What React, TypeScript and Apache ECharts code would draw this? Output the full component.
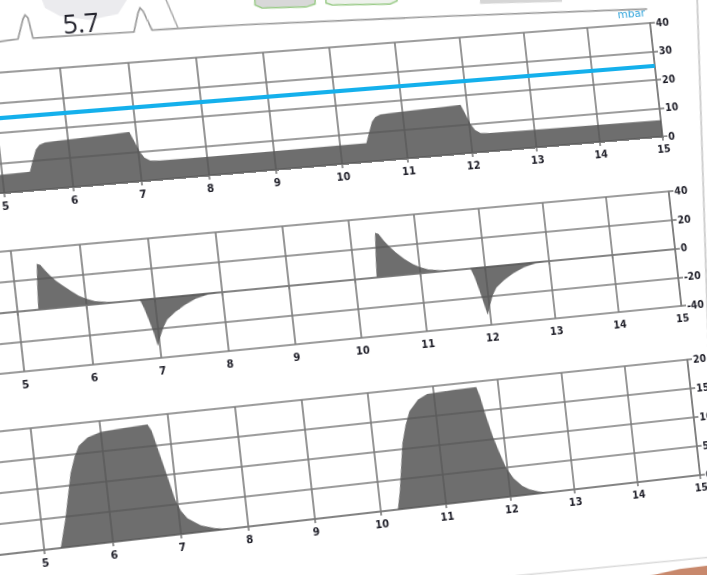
import React, { useEffect, useRef } from "react";
import * as echarts from "echarts";

// ---------- data (time in s) ----------
const TIME_MIN = 4;
const TIME_MAX = 15;

const PRESSURE_TICKS = { min: 0, max: 40, interval: 10 };
const FLOW_TICKS = { min: -40, max: 40, interval: 20 };
const VOLUME_TICKS = { min: 0, max: 20, interval: 5 };

const PRESSURE_UNIT = "mbar";
const PRESSURE_LIMIT = 25;
const DISPLAY_VALUE = "5.7";

const PRESSURE: [number, number][] = [
  [4.0, 6.0], [4.6, 6.0], [5.0, 6.1], [5.4, 6.3], [5.45, 9.5], [5.52, 13.5], [5.58, 15.0],
  [5.66, 15.6], [5.8, 15.8], [6.2, 16.1], [6.6, 16.5], [6.9, 16.8], [6.96, 13.5], [7.02, 10],
  [7.08, 7.8], [7.16, 6.7], [7.3, 6.4], [8, 6.3], [9, 6.3], [10, 6.4], [10.4, 6.4],
  [10.45, 9.5], [10.52, 13.5], [10.58, 15.1], [10.66, 15.8], [10.8, 16.0], [11.2, 16.3],
  [11.6, 16.6], [11.9, 16.8], [11.96, 13.5], [12.02, 10], [12.08, 7.8], [12.16, 6.6],
  [12.3, 6.3], [13, 6.1], [14, 6.0], [15, 5.8],
];

const FLOW: [number, number][] = [
  [4, 0], [5.3, 0], [5.32, 14], [5.35, 30], [5.4, 29], [5.46, 25], [5.53, 21], [5.6, 17.5],
  [5.68, 14.5], [5.8, 10], [5.9, 6.5], [6.0, 4], [6.13, 1.8], [6.3, 0.5], [6.5, 0],
  [6.78, 0], [6.83, -6], [6.88, -14], [6.93, -23], [6.97, -32], [7.02, -26], [7.08, -20],
  [7.15, -15], [7.28, -10.5], [7.43, -6.5], [7.6, -3], [7.8, -0.8], [8, 0],
  [10.33, 0], [10.35, 14], [10.38, 30], [10.43, 29], [10.5, 24], [10.58, 19.5], [10.66, 15.5],
  [10.78, 10.5], [10.9, 6.5], [11.0, 4], [11.13, 1.8], [11.3, 0.5], [11.5, 0],
  [11.77, 0], [11.82, -6], [11.87, -15], [11.92, -25], [11.96, -33], [12.01, -27], [12.07, -20],
  [12.14, -15], [12.27, -10.5], [12.42, -6.5], [12.6, -3], [12.8, -0.8], [13, 0], [15, 0],
];

const VOLUME: [number, number][] = [
  [4, 0], [5.24, 0], [5.3, 2.5], [5.36, 5], [5.42, 8], [5.5, 12], [5.58, 14.5], [5.66, 16.3],
  [5.8, 17.5], [6.0, 18.2], [6.3, 18.4], [6.69, 18.6], [6.74, 17.5], [6.78, 15.5], [6.84, 12.5],
  [6.9, 9.5], [6.97, 5.8], [7.04, 3.8], [7.12, 2.5], [7.3, 1.1], [7.5, 0.4], [7.7, 0],
  [10.26, 0], [10.32, 3], [10.38, 7], [10.44, 11], [10.52, 14], [10.6, 16.2], [10.75, 18],
  [10.9, 18.8], [11.3, 19], [11.66, 19.1], [11.7, 17.5], [11.76, 14], [11.83, 10.5], [11.9, 7.8],
  [11.98, 5], [12.08, 3], [12.2, 1.6], [12.3, 0.9], [12.45, 0.3], [12.6, 0], [15, 0],
];

// ---------- layout of the flat (un-photographed) screen ----------
const FRAME_W = 900;
const FRAME_H = 760;
const PLOT_LEFT = 34;
const UNIT = 66;
const PLOT_W = UNIT * (TIME_MAX - TIME_MIN);
const GRID_TOPS = [140, 309, 478];
const GRID_HEIGHTS = [114, 115, 116];

// where the flat screen corners land in the photo
const QUAD: [number, number][] = [
  [60, 68],
  [650, 23],
  [700, 475],
  [113, 542],
];

type M3 = number[][];
function squareToQuad(q: [number, number][]): M3 {
  const [[x0, y0], [x1, y1], [x2, y2], [x3, y3]] = q;
  const sx = x0 - x1 + x2 - x3;
  const sy = y0 - y1 + y2 - y3;
  const dx1 = x1 - x2, dx2 = x3 - x2, dy1 = y1 - y2, dy2 = y3 - y2;
  const den = dx1 * dy2 - dx2 * dy1;
  const g = (sx * dy2 - dx2 * sy) / den;
  const h = (dx1 * sy - sx * dy1) / den;
  return [
    [x1 - x0 + g * x1, x3 - x0 + h * x3, x0],
    [y1 - y0 + g * y1, y3 - y0 + h * y3, y0],
    [g, h, 1],
  ];
}
function mul3(a: M3, b: M3): M3 {
  const r: M3 = [[0, 0, 0], [0, 0, 0], [0, 0, 0]];
  for (let i = 0; i < 3; i++)
    for (let j = 0; j < 3; j++)
      for (let k = 0; k < 3; k++) r[i][j] += a[i][k] * b[k][j];
  return r;
}
function inv3(m: M3): M3 {
  const [[a, b, c], [d, e, f], [g, h, i]] = m;
  const A = e * i - f * h, B = -(d * i - f * g), C = d * h - e * g;
  const det = a * A + b * B + c * C;
  return [
    [A / det, -(b * i - c * h) / det, (b * f - c * e) / det],
    [B / det, (a * i - c * g) / det, -(a * f - c * d) / det],
    [C / det, -(a * h - b * g) / det, (a * e - b * d) / det],
  ];
}
function apply(m: M3, p: [number, number]): [number, number] {
  const w = m[2][0] * p[0] + m[2][1] * p[1] + m[2][2];
  return [
    (m[0][0] * p[0] + m[0][1] * p[1] + m[0][2]) / w,
    (m[1][0] * p[0] + m[1][1] * p[1] + m[1][2]) / w,
  ];
}

const U6 = PLOT_LEFT + UNIT * (6 - TIME_MIN);
const U15 = PLOT_LEFT + PLOT_W;
const V_TOP = GRID_TOPS[0];
const V_BOT = GRID_TOPS[2] + GRID_HEIGHTS[2];
const RECT: M3 = [
  [1 / (U15 - U6), 0, -U6 / (U15 - U6)],
  [0, 1 / (V_BOT - V_TOP), -V_TOP / (V_BOT - V_TOP)],
  [0, 0, 1],
];
const HOMO = mul3(squareToQuad(QUAD), RECT);
const HOMO_INV = inv3(HOMO);
const toFrame = (p: [number, number]) => apply(HOMO_INV, p);
const CSS_MATRIX = `matrix3d(${HOMO[0][0]},${HOMO[1][0]},0,${HOMO[2][0]},${HOMO[0][1]},${HOMO[1][1]},0,${HOMO[2][1]},0,0,1,0,${HOMO[0][2]},${HOMO[1][2]},0,${HOMO[2][2]})`;

const GRID_COLOR = "#7c7c7c";
const LABEL_COLOR = "#1c1c26";
const FILL = "rgba(86,86,86,0.86)";
const BLUE = "#14b0ec";
const FONT = "DejaVu Sans Condensed, DejaVu Sans";

function buildOption() {
  const ticks = [PRESSURE_TICKS, FLOW_TICKS, VOLUME_TICKS];
  const grid = GRID_TOPS.map((top, i) => ({
    left: PLOT_LEFT,
    width: PLOT_W,
    top,
    height: GRID_HEIGHTS[i],
  }));
  const xAxis = grid.map((_, i) => ({
    type: "value",
    gridIndex: i,
    min: TIME_MIN,
    max: TIME_MAX,
    interval: 1,
    axisLine: { show: true, lineStyle: { color: GRID_COLOR, width: 1.6 } },
    axisTick: { show: true, length: 4, lineStyle: { color: GRID_COLOR, width: 1.6 } },
    axisLabel: {
      color: LABEL_COLOR,
      fontSize: 11,
      fontWeight: "bold",
      fontFamily: FONT,
      margin: 7,
      formatter: (v: number) => (v === TIME_MIN ? "" : String(v)),
    },
    splitLine: { show: true, lineStyle: { color: GRID_COLOR, width: 1.6 } },
  }));
  const yAxis = ticks.map((t, i) => ({
    type: "value",
    gridIndex: i,
    position: "right",
    min: t.min,
    max: t.max,
    interval: t.interval,
    name: i === 0 ? PRESSURE_UNIT : "",
    nameLocation: "end",
    nameGap: 5,
    nameTextStyle: {
      color: "#2ea3da",
      fontSize: 11,
      fontFamily: "DejaVu Sans",
      align: "right",
      verticalAlign: "bottom",
      padding: [0, 4, 0, 0],
    },
    axisLine: { show: true, lineStyle: { color: GRID_COLOR, width: 1.6 } },
    axisTick: { show: true, length: 5, lineStyle: { color: GRID_COLOR, width: 1.6 } },
    axisLabel: { color: LABEL_COLOR, fontSize: 11, fontWeight: "bold", fontFamily: FONT, margin: 6 },
    splitLine: { show: true, lineStyle: { color: GRID_COLOR, width: 1.6 } },
  }));
  const area = (data: [number, number][], i: number, extra: any = {}) => ({
    type: "line",
    xAxisIndex: i,
    yAxisIndex: i,
    data,
    symbol: "none",
    showSymbol: false,
    lineStyle: { width: 0 },
    areaStyle: { color: FILL, opacity: 1 },
    z: 3,
    ...extra,
  });

  const P = (x: number, y: number) => toFrame([x, y]);
  const panelEdge = [
    [-10, 43], [18, 39], [23, 19], [25, 15], [28, 18], [33, 38], [134, 32], [138, 13],
    [140, 8], [143, 11], [152, 30], [240, 25], [450, 16], [647, 9],
  ].map(([x, y]) => P(x, y));

  const graphic = [
    {
      type: "polygon",
      shape: { points: [P(40, -5), P(130, -5), P(118, 14), P(90, 20), P(60, 16), P(45, 8)] },
      style: { fill: "#ebebee" },
      z: 0,
    },
    {
      type: "polyline",
      shape: { points: panelEdge },
      style: { stroke: "#9b9b9b", lineWidth: 1.6, fill: "none" },
      z: 1,
    },
    {
      type: "polyline",
      shape: { points: [P(164, -5), P(178, 28)] },
      style: { stroke: "#a8a8a8", lineWidth: 1.4, fill: "none" },
      z: 1,
    },
    {
      type: "text",
      x: P(81, 23)[0],
      y: P(81, 23)[1],
      style: {
        text: DISPLAY_VALUE,
        fontSize: 25,
        fontFamily: "Open Sans",
        fill: "#24242e",
        align: "center",
        verticalAlign: "middle",
      },
      z: 2,
    },
    {
      type: "polygon",
      shape: { points: [P(254, -20), P(316, -20), P(315, 4), P(306, 7), P(262, 8), P(255, 5)] },
      style: { fill: "#d8d8d8", stroke: "#9ccc8a", lineWidth: 1.5 },
      z: 1,
    },
    {
      type: "polygon",
      shape: { points: [P(325, -20), P(398, -20), P(397, 1), P(390, 4), P(332, 5), P(326, 3)] },
      style: { fill: "#eef2ec", stroke: "#9ccc8a", lineWidth: 1.5 },
      z: 1,
    },
    {
      type: "polygon",
      shape: { points: [P(480, -20), P(562, -20), P(562, 2), P(480, 4)] },
      style: { fill: "#d6d6d6" },
      z: 1,
    },
    {
      type: "polyline",
      shape: { points: [P(697, -5), P(716, 580)] },
      style: { stroke: "#cfcfcf", lineWidth: 2, fill: "none" },
      z: 1,
    },
    {
      type: "polyline",
      shape: { points: [P(470, 580), P(712, 557)] },
      style: { stroke: "#dadada", lineWidth: 1.5, fill: "none" },
      z: 1,
    },
    {
      type: "polygon",
      shape: { points: [P(630, 580), P(680, 569), P(712, 565), P(712, 580)] },
      style: { fill: "#c8886c" },
      z: 1,
    },
  ];

  return {
    animation: false,
    backgroundColor: "transparent",
    textStyle: { fontFamily: FONT },
    grid,
    xAxis,
    yAxis,
    graphic,
    series: [
      area(PRESSURE, 0, {
        markLine: {
          silent: true,
          symbol: ["none", "none"],
          label: { show: false },
          lineStyle: { color: BLUE, width: 4.2, type: "solid" },
          data: [{ yAxis: PRESSURE_LIMIT }],
        },
      }),
      area(FLOW, 1),
      area(VOLUME, 2),
    ],
  };
}

export default function App() {
  const ref = useRef<HTMLDivElement>(null);
  useEffect(() => {
    if (!ref.current) return;
    const chart = echarts.init(ref.current, undefined, { renderer: "svg" });
    chart.setOption(buildOption() as any);
    return () => chart.dispose();
  }, []);
  return (
    <div
      style={{
        position: "fixed",
        left: 0,
        top: 0,
        width: 707,
        height: 575,
        overflow: "hidden",
        background: "#ffffff",
      }}
    >
      <div
        ref={ref}
        style={{
          position: "absolute",
          left: 0,
          top: 0,
          width: FRAME_W,
          height: FRAME_H,
          transformOrigin: "0 0",
          transform: CSS_MATRIX,
        }}
      />
    </div>
  );
}
